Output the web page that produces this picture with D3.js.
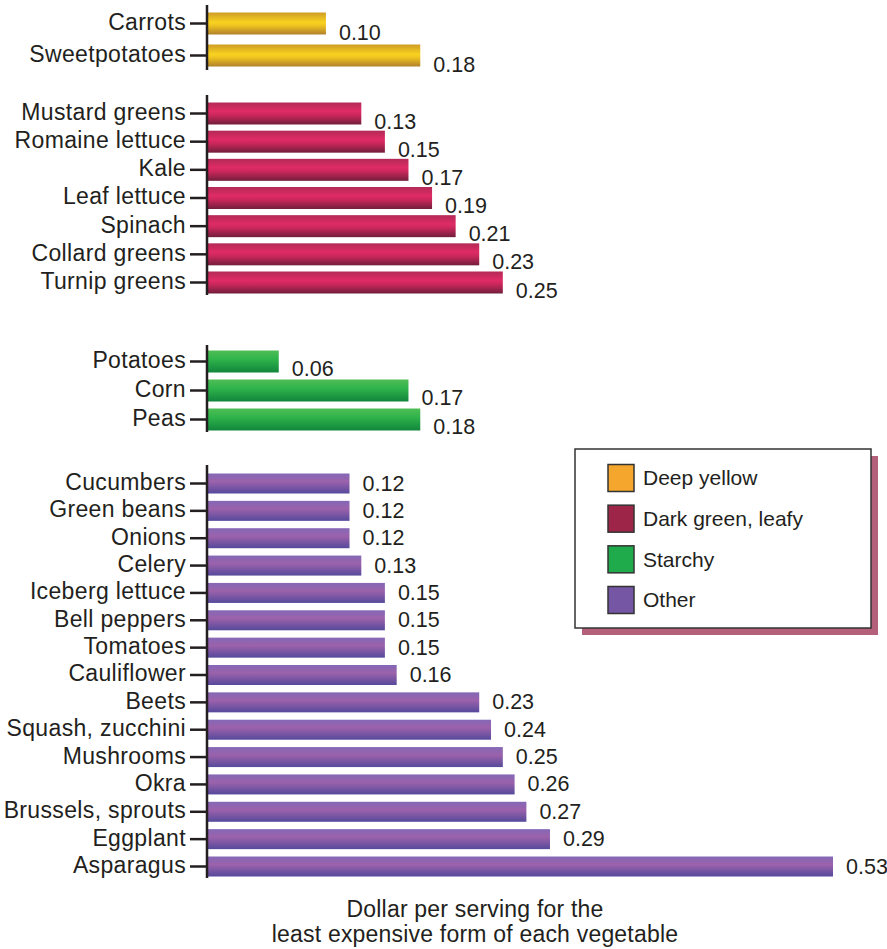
<!DOCTYPE html>
<html>
<head>
<meta charset="utf-8">
<script src="https://cdn.jsdelivr.net/npm/d3@7"></script>
<style>
  body { margin: 0; background: #fff; }
  svg text { font-family: "Liberation Sans", Arial, Helvetica, sans-serif; fill: #231f20; }
</style>
</head>
<body>
<div id="chart"></div>
<script>
// data
let yellowNames = ['Carrots', 'Sweetpotatoes'];
let yellowValues = [0.10, 0.18];

let leafyNames = ['Mustard greens', 'Romaine lettuce', 'Kale', 'Leaf lettuce', 'Spinach', 'Collard greens', 'Turnip greens'];
let leafyValues = [0.13, 0.15, 0.17, 0.19, 0.21, 0.23, 0.25];

let starchyNames = ['Potatoes', 'Corn', 'Peas'];
let starchyValues = [0.06, 0.17, 0.18];

let otherNames = ['Cucumbers', 'Green beans', 'Onions', 'Celery', 'Iceberg lettuce', 'Bell peppers', 'Tomatoes',
    'Cauliflower', 'Beets', 'Squash, zucchini', 'Mushrooms', 'Okra', 'Brussels, sprouts', 'Eggplant', 'Asparagus'];
let otherValues = [0.12, 0.12, 0.12, 0.13, 0.15, 0.15, 0.15, 0.16, 0.23, 0.24, 0.25, 0.26, 0.27, 0.29, 0.53];

let legendLabels = ['Deep yellow', 'Dark green, leafy', 'Starchy', 'Other'];
let axisTitle = ['Dollar per serving for the', 'least expensive form of each vegetable'];

let width = 887;
let height = 949;
let axisX = 207;

// each group gets its own little axis segment
let groups = [
    { id: 'yellow', names: yellowNames, values: yellowValues, top: 23, bottom: 55, axisTop: 5, axisBottom: 70, barH: 22, dy: 9,
      swatch: '#f5a62c', stops: [['0%', '#cf9c26'], ['45%', '#f7d31f'], ['60%', '#eec21f'], ['100%', '#b0802d']] },
    { id: 'leafy', names: leafyNames, values: leafyValues, top: 113, bottom: 282, axisTop: 95, axisBottom: 295, barH: 22, dy: 8,
      swatch: '#9c2548', stops: [['0%', '#b32a56'], ['40%', '#e02b66'], ['60%', '#c72759'], ['100%', '#711e3c']] },
    { id: 'starchy', names: starchyNames, values: starchyValues, top: 361, bottom: 419, axisTop: 345, axisBottom: 432, barH: 22, dy: 7,
      swatch: '#1fab4b', stops: [['0%', '#4fbd55'], ['40%', '#2fb44b'], ['100%', '#11853b']] },
    { id: 'other', names: otherNames, values: otherValues, top: 483, bottom: 866, axisTop: 465, axisBottom: 878, barH: 20, dy: 0,
      swatch: '#7456a4', stops: [['0%', '#8468b6'], ['40%', '#9c62ab'], ['100%', '#56499b']] }
];

let svg = d3.select('#chart').append('svg')
    .attr('width', width)
    .attr('height', height);

let defs = svg.append('defs');
groups.forEach(g => {
    let grad = defs.append('linearGradient')
        .attr('id', 'grad-' + g.id)
        .attr('x1', 0).attr('y1', 0).attr('x2', 0).attr('y2', 1);
    g.stops.forEach(s => grad.append('stop').attr('offset', s[0]).attr('stop-color', s[1]));
});

let x = d3.scaleLinear()
    .domain([0, 0.53])
    .range([axisX + 1, 833]);

groups.forEach(g => {
    let rows = g.names.map((n, i) => ({ name: n, value: g.values[i] }));
    let y = d3.scalePoint()
        .domain(g.names)
        .range([g.top, g.bottom]);

    let gg = svg.append('g').attr('class', 'group-' + g.id);

    gg.selectAll('rect.bar')
        .data(rows)
        .enter()
        .append('rect')
        .attr('class', 'bar')
        .attr('x', x(0))
        .attr('y', d => y(d.name) - g.barH / 2 + 0.5)
        .attr('width', d => x(d.value) - x(0))
        .attr('height', g.barH)
        .attr('fill', 'url(#grad-' + g.id + ')');

    gg.selectAll('text.val')
        .data(rows)
        .enter()
        .append('text')
        .attr('class', 'val')
        .attr('x', d => x(d.value) + 13)
        .attr('y', d => y(d.name) + g.dy)
        .attr('dy', '0.35em')
        .style('font-size', '21.5px')
        .text(d => d.value.toFixed(2));

    let axis = d3.axisLeft(y)
        .tickSize(17)
        .tickPadding(4);

    let ax = gg.append('g')
        .attr('transform', `translate(${axisX},0)`)
        .call(axis);
    ax.select('.domain').remove();
    ax.selectAll('.tick line').attr('stroke', '#231f20').attr('stroke-width', 2.5);
    ax.selectAll('.tick text')
        .attr('dy', '0.28em')
        .style('font-size', '23px')
        .style('letter-spacing', '0.35px')
        .attr('font-family', null);

    gg.append('line')
        .attr('x1', axisX).attr('x2', axisX)
        .attr('y1', g.axisTop).attr('y2', g.axisBottom)
        .attr('stroke', '#231f20')
        .attr('stroke-width', 2.5);
});

// axis title
svg.append('g')
    .selectAll('text')
    .data(axisTitle)
    .enter()
    .append('text')
    .attr('x', 475)
    .attr('y', (d, i) => 917 + i * 25)
    .attr('text-anchor', 'middle')
    .style('font-size', '23px')
    .style('letter-spacing', '0.2px')
    .text(d => d);

// legend
let legend = svg.append('g');
legend.append('rect')
    .attr('x', 582).attr('y', 456)
    .attr('width', 296).attr('height', 179)
    .attr('fill', '#b5607b');
legend.append('rect')
    .attr('x', 575).attr('y', 449)
    .attr('width', 296).attr('height', 179)
    .attr('fill', '#fff')
    .attr('stroke', '#333')
    .attr('stroke-width', 1.5);

let legendY = d3.scalePoint()
    .domain(legendLabels)
    .range([478, 600]);

let items = legend.selectAll('g.item')
    .data(groups)
    .enter()
    .append('g')
    .attr('class', 'item')
    .attr('transform', (d, i) => translate(0, legendY(legendLabels[i])));

items.append('rect')
    .attr('x', 608).attr('y', -13.5)
    .attr('width', 26).attr('height', 27)
    .attr('fill', d => d.swatch)
    .attr('stroke', '#333')
    .attr('stroke-width', 1.5);

items.append('text')
    .attr('x', 643)
    .attr('dy', '0.35em')
    .style('font-size', '21px')
    .text((d, i) => legendLabels[i]);

function translate(a, b) {
    return `translate(${a},${b})`;
}
</script>
</body>
</html>
